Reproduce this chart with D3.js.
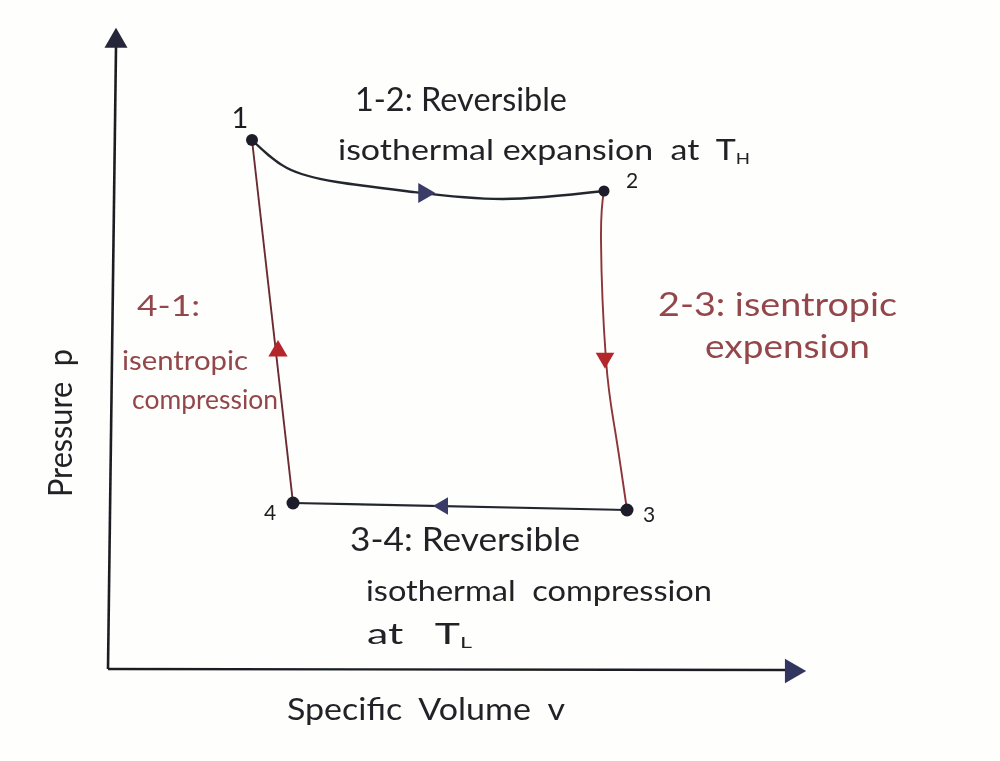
<!DOCTYPE html>
<html><head><meta charset="utf-8">
<script src="https://cdnjs.cloudflare.com/ajax/libs/d3/7.8.5/d3.min.js"></script>
<style>html,body{margin:0;padding:0;background:#fefefd}svg{display:block}text{font-family:"Lato","Open Sans",sans-serif;font-weight:400}</style>
</head><body><svg id="c" width="1000" height="761"></svg>
<script>
// State points of the cycle (specific volume, pressure), read in picture units
const stateNames = ["1","2","3","4"];
const stateV = [144,496,519,185];
const stateP = [529,478,159,166];
// Isothermal expansion curve 1-2
const curveV = [144,179,229,305,395,496];
const curveP = [529,501,487,477,470,478];
// Isentropic expansion 2-3 (slightly bowed in the drawing)
const expansionV = [496,493,498,507,519];
const expansionP = [478,429,309,239,159];
const axisTitles = ["Specific\u00A0\u00A0Volume\u00A0\u00A0v","Pressure\u00A0\u00A0p"];
const annotationTexts = [
 "1-2: Reversible","isothermal expansion\u00A0\u00A0at\u00A0\u00A0T","2-3: isentropic","expension",
 "4-1:","isentropic","compression","3-4: Reversible","isothermal\u00A0\u00A0compression","at\u00A0\u00A0\u00A0T"
];
const annotationSubs = ["","H","","","","","","","","L"];

const x = d3.scaleLinear().domain([0,700]).range([108,808]);
const y = d3.scaleLinear().domain([0,640]).range([669,29]);
const svg = d3.select("#c");
const ink="#23252e", red="#8e3438", arrowBlue="#3a3a68";
const g = svg.append("g").attr("filter","url(#soft)");
svg.append("defs").append("filter").attr("id","soft").append("feGaussianBlur").attr("stdDeviation",0.5);

const line=d3.line().x(d=>x(d[0])).y(d=>y(d[1]));
const smooth=d3.line().curve(d3.curveNatural).x(d=>x(d[0])).y(d=>y(d[1]));
// axes
const axisLine=(a,b,w)=>g.append("path").attr("d",line([a,b])).attr("fill","none").attr("stroke","#1d1e22").attr("stroke-width",w);
axisLine([0,0],[8,622],2.6);
axisLine([0,0],[680,-1],2.4);
const tri=(px,py,deg,size,fill)=>g.append("path").attr("d",d3.symbol(d3.symbolTriangle,size)())
  .attr("transform",`translate(${px},${py}) rotate(${deg})`).attr("fill",fill);
tri(x(8),y(628),0,230,"#25283a");
tri(x(684),y(-2),90,260,"#33355f");

// red adiabats
const seg=(i,j,c,w)=>g.append("path").attr("d",line([[stateV[i],stateP[i]],[stateV[j],stateP[j]]])).attr("fill","none").attr("stroke",c).attr("stroke-width",w);
g.append("path").attr("d",smooth(expansionV.map((v,i)=>[v,expansionP[i]]))).attr("fill","none").attr("stroke",red).attr("stroke-width",1.9);
seg(3,0,"#6b2a30",1.9);
// isotherms
g.append("path").attr("d",smooth(curveV.map((v,i)=>[v,curveP[i]])))
 .attr("fill","none").attr("stroke",ink).attr("stroke-width",2.4);
seg(2,3,ink,2.2);
// direction arrows
tri(x(316),y(476),90,170,arrowBlue);
tri(x(335),y(163),-90,130,arrowBlue);
tri(x(497),y(311),180,150,"#b3262c");
tri(x(170),y(318),0,160,"#b3262c");
// state points
const ptR=[6,5.5,6.5,6.5];
g.selectAll("circle.s").data(stateV).join("circle").attr("class","s")
 .attr("cx",d=>x(d)).attr("cy",(d,i)=>y(stateP[i])).attr("r",(d,i)=>ptR[i]).attr("fill","#1c1e2a");

// state labels
const statePos=[[240,128],[632,188],[649,522],[270,520]];
g.selectAll("text.n").data(stateNames).join("text").attr("class","n")
 .attr("x",(d,i)=>statePos[i][0]).attr("y",(d,i)=>statePos[i][1]).attr("text-anchor","middle")
 .attr("font-size",(d,i)=>i==0?29:21).attr("fill","#1e1f24").text(d=>d);

// annotations: x start, baseline, width, size, colour
const layout=[
 [355,111,212,33,"#232428"],[338,160,412,29,"#232428"],
 [658,316,239,32,"#93474b"],[705,358,165,32,"#93474b"],
 [137,316,63,28,"#93474b"],[122,370,126,26,"#93474b"],[132,409,146,26,"#93474b"],
 [350,551,230,33,"#232428"],[366,601,346,29,"#232428"],[367,644,105,29,"#232428"]
];
annotationTexts.forEach((t,i)=>{
 const [px,py,w,s,c]=layout[i];
 const el=g.append("text").attr("x",px).attr("y",py).attr("font-size",s).attr("fill",c)
   .attr("textLength",w).attr("lengthAdjust","spacingAndGlyphs");
 el.append("tspan").text(t);
 if(annotationSubs[i]) el.append("tspan").attr("dy",4).attr("font-size",s*0.55).text(annotationSubs[i]);
});
g.append("text").attr("x",287).attr("y",720).attr("font-size",31).attr("fill","#232428")
 .attr("textLength",278).attr("lengthAdjust","spacingAndGlyphs").text(axisTitles[0]);
g.append("text").attr("transform","translate(72,497) rotate(-90)").attr("font-size",33).attr("fill","#232428")
 .attr("textLength",148).attr("lengthAdjust","spacingAndGlyphs").text(axisTitles[1]);
</script></body></html>
